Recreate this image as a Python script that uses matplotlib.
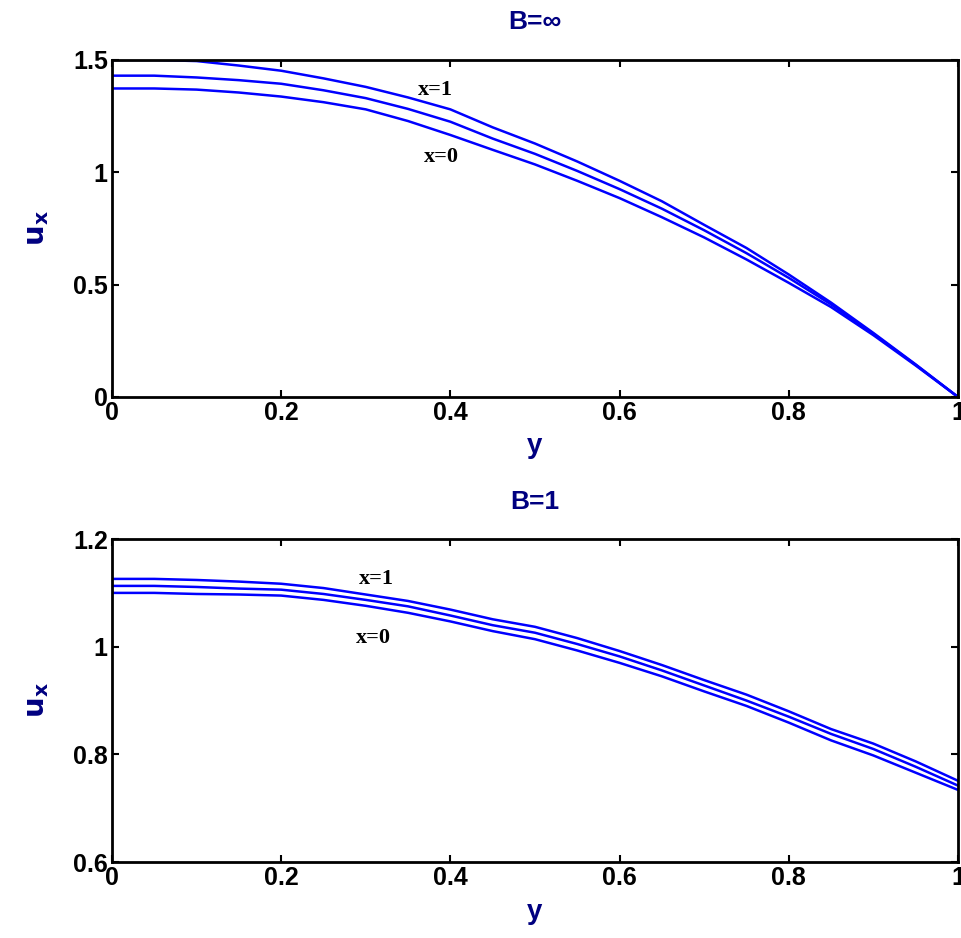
import matplotlib
matplotlib.use('Agg')
import matplotlib.pyplot as plt


# data (y from 0 to 1 in steps of 0.05)
y = [0.00, 0.05, 0.10, 0.15, 0.20, 0.25, 0.30, 0.35, 0.40, 0.45, 0.50,
     0.55, 0.60, 0.65, 0.70, 0.75, 0.80, 0.85, 0.90, 0.95, 1.00]

# B = infinity
inf_x1 = [1.500, 1.500, 1.495, 1.475, 1.452, 1.418, 1.380, 1.333, 1.280,
          1.200, 1.128, 1.048, 0.962, 0.871, 0.766, 0.663, 0.545, 0.420,
          0.285, 0.145, 0.000]
inf_xh = [1.430, 1.430, 1.422, 1.410, 1.394, 1.365, 1.330, 1.282, 1.225,
          1.150, 1.082, 1.006, 0.925, 0.838, 0.742, 0.640, 0.530, 0.412,
          0.281, 0.143, 0.000]
inf_x0 = [1.373, 1.373, 1.368, 1.355, 1.337, 1.312, 1.280, 1.228, 1.166,
          1.100, 1.035, 0.962, 0.885, 0.800, 0.710, 0.612, 0.508, 0.400,
          0.275, 0.140, 0.000]

# B = 1
b1_x1 = [1.126, 1.126, 1.124, 1.121, 1.117, 1.109, 1.097, 1.085, 1.069,
         1.051, 1.037, 1.016, 0.992, 0.966, 0.938, 0.911, 0.880, 0.847,
         0.820, 0.787, 0.751]
b1_xh = [1.113, 1.113, 1.111, 1.108, 1.106, 1.098, 1.087, 1.075, 1.058,
         1.040, 1.026, 1.005, 0.982, 0.956, 0.928, 0.900, 0.870, 0.838,
         0.810, 0.777, 0.742]
b1_x0 = [1.100, 1.100, 1.098, 1.097, 1.095, 1.087, 1.076, 1.063, 1.047,
         1.029, 1.014, 0.993, 0.970, 0.945, 0.917, 0.890, 0.859, 0.826,
         0.798, 0.766, 0.734]

xticks = [0, 0.2, 0.4, 0.6, 0.8, 1]
xticklabels = ['0', '0.2', '0.4', '0.6', '0.8', '1']

NAVY = '#000080'
SANS = ['Liberation Sans', 'DejaVu Sans']
SERIF = ['Liberation Serif', 'DejaVu Serif']


def panel(ax, curves, ylim, yticks, yticklabels, title, lab1, lab0):
    for c in curves:
        ax.plot(y, c, color='#0000ff', lw=1.8)
    ax.set_xlim(0, 1)
    ax.set_ylim(*ylim)
    ax.set_xticks(xticks)
    ax.set_xticklabels(xticklabels)
    ax.set_yticks(yticks)
    ax.set_yticklabels(yticklabels)
    ax.tick_params(direction='in', length=5, width=1.5, top=True,
                   right=True, labelsize=18, pad=3)
    for lbl in ax.get_xticklabels() + ax.get_yticklabels():
        lbl.set_fontweight('bold')
        lbl.set_family(SANS)
    for s in ax.spines.values():
        s.set_linewidth(2)
    ax.set_title(title, color=NAVY, fontsize=19, fontweight='bold',
                 family=SANS, pad=22)
    ax.set_xlabel('y', color=NAVY, fontsize=20, fontweight='bold',
                  family=SANS, labelpad=6)
    ax.set_ylabel(r'$\mathbf{u_x}$', color=NAVY, fontsize=21,
                  labelpad=16)
    ax.text(lab1[0], lab1[1], 'x=1', fontsize=16, fontweight='bold',
            family=SERIF, ha='center', va='center')
    ax.text(lab0[0], lab0[1], 'x=0', fontsize=16, fontweight='bold',
            family=SERIF, ha='center', va='center')


fig = plt.figure(figsize=(9.62, 9.38), dpi=100)
ax1 = fig.add_axes([0.1164, 0.5768, 0.8794, 0.3593])
ax2 = fig.add_axes([0.1164, 0.081, 0.8794, 0.3443])

panel(ax1, [inf_x1, inf_xh, inf_x0], (0, 1.5), [0, 0.5, 1, 1.5],
      ['0', '0.5', '1', '1.5'], 'B=\u221e', (0.382, 1.366), (0.389, 1.068))
panel(ax2, [b1_x1, b1_xh, b1_x0], (0.6, 1.2), [0.6, 0.8, 1, 1.2],
      ['0.6', '0.8', '1', '1.2'], 'B=1', (0.313, 1.1257), (0.3085, 1.016))

fig.savefig('out.png', dpi=100)
